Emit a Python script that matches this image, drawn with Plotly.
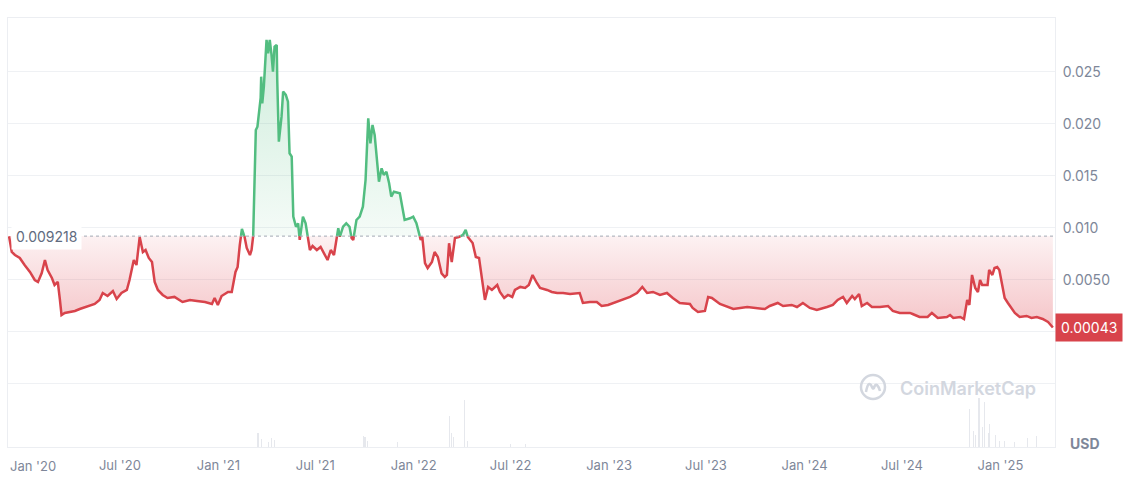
import plotly.graph_objects as go
import pandas as pd

BASE = 0.009218
LAST_LABEL = "0.00043"
BASE_LABEL = "0.009218"

dates = [
"2019-12-07","2019-12-12","2019-12-18","2019-12-27","2020-01-05","2020-01-15","2020-01-24","2020-01-30",
"2020-02-06","2020-02-12","2020-02-17","2020-02-25","2020-03-01","2020-03-07","2020-03-11","2020-03-14",
"2020-03-20","2020-04-08","2020-04-17","2020-05-02","2020-05-15","2020-05-24","2020-05-30","2020-06-08",
"2020-06-18","2020-06-25","2020-07-04","2020-07-14","2020-07-19","2020-07-27","2020-08-01","2020-08-07",
"2020-08-13","2020-08-18","2020-08-24","2020-08-30","2020-09-04","2020-09-10","2020-09-19","2020-09-28",
"2020-10-11","2020-10-26","2020-11-09","2020-11-22","2020-12-07","2020-12-20","2020-12-25","2020-12-31",
"2021-01-07","2021-01-19","2021-01-26","2021-02-02","2021-02-06","2021-02-10","2021-02-14","2021-02-19",
"2021-02-23","2021-03-01","2021-03-04","2021-03-07","2021-03-09","2021-03-12","2021-03-15","2021-03-18",
"2021-03-21","2021-03-22","2021-03-24","2021-03-27","2021-04-01","2021-04-04","2021-04-07","2021-04-10",
"2021-04-13","2021-04-16","2021-04-20","2021-04-21","2021-04-24","2021-04-29","2021-05-02","2021-05-07",
"2021-05-11","2021-05-14","2021-05-18","2021-05-21","2021-05-26","2021-05-30","2021-06-02","2021-06-08",
"2021-06-13","2021-06-18","2021-06-21","2021-06-26","2021-07-04","2021-07-11","2021-07-19","2021-07-24",
"2021-07-30","2021-08-05","2021-08-13","2021-08-16","2021-08-22","2021-08-28","2021-09-03","2021-09-07",
"2021-09-10","2021-09-16","2021-09-22","2021-09-28","2021-10-03","2021-10-08","2021-10-12","2021-10-16",
"2021-10-20","2021-10-23","2021-10-28","2021-11-02","2021-11-06","2021-11-11","2021-11-16","2021-11-20",
"2021-11-25","2021-12-06","2021-12-11","2021-12-15","2021-12-25","2021-12-31","2022-01-06","2022-01-11",
"2022-01-14","2022-01-17","2022-01-22","2022-01-27","2022-02-04","2022-02-09","2022-02-15","2022-02-22",
"2022-02-28","2022-03-04","2022-03-08","2022-03-13","2022-03-19","2022-03-26","2022-04-03","2022-04-08",
"2022-04-12","2022-04-21","2022-04-27","2022-05-03","2022-05-08","2022-05-14","2022-05-20","2022-05-27",
"2022-06-06","2022-06-11","2022-06-19","2022-06-26","2022-07-04","2022-07-09","2022-07-19","2022-07-28",
"2022-08-04","2022-08-11","2022-08-19","2022-08-25","2022-09-07","2022-09-16","2022-09-26","2022-10-07",
"2022-10-20","2022-11-02","2022-11-07","2022-11-13","2022-11-26","2022-12-09","2022-12-18","2022-12-30",
"2023-01-15","2023-01-27","2023-02-09","2023-02-22","2023-03-04","2023-03-13","2023-03-24","2023-04-06",
"2023-04-19","2023-04-30","2023-05-13","2023-06-01","2023-06-06","2023-06-16","2023-06-29","2023-07-05",
"2023-07-12","2023-07-27","2023-08-11","2023-08-21","2023-09-16","2023-10-10","2023-10-19","2023-10-28",
"2023-11-12","2023-11-22","2023-12-08","2023-12-18","2023-12-29","2024-01-11","2024-01-24","2024-02-12",
"2024-02-23","2024-03-03","2024-03-13","2024-03-20","2024-03-30","2024-04-04","2024-04-12","2024-04-17",
"2024-04-27","2024-05-06","2024-05-21","2024-06-05","2024-06-14","2024-06-27","2024-07-16","2024-07-21",
"2024-08-03","2024-08-18","2024-08-26","2024-09-06","2024-09-23","2024-09-29","2024-10-05","2024-10-18",
"2024-10-25","2024-10-31","2024-11-04","2024-11-09","2024-11-15","2024-11-20","2024-11-24","2024-11-28",
"2024-12-08","2024-12-11","2024-12-17","2024-12-21","2024-12-26","2024-12-30","2025-01-04","2025-01-09",
"2025-01-15","2025-01-22","2025-01-28","2025-02-06","2025-02-19","2025-02-28","2025-03-10","2025-03-21",
"2025-03-31","2025-04-09",
]

prices = [
0.00920,0.00769,0.00740,0.00712,0.00644,0.00577,0.00500,0.00481,
0.00567,0.00692,0.00596,0.00519,0.00452,0.00481,0.00308,0.00163,
0.00183,0.00202,0.00221,0.00250,0.00269,0.00308,0.00375,0.00346,
0.00394,0.00317,0.00375,0.00404,0.00500,0.00692,0.00644,0.00913,
0.00769,0.00788,0.00712,0.00673,0.00481,0.00404,0.00356,0.00327,
0.00337,0.00288,0.00308,0.00298,0.00288,0.00269,0.00327,0.00260,
0.00346,0.00385,0.00385,0.00577,0.00625,0.00836,0.00990,0.00913,
0.00808,0.00740,0.00788,0.00916,0.01269,0.01942,0.01974,0.02151,
0.02250,0.02455,0.02199,0.02359,0.02808,0.02680,0.02808,0.02680,
0.02503,0.02743,0.02760,0.02423,0.01830,0.02070,0.02311,0.02279,
0.02214,0.01718,0.01686,0.01109,0.01012,0.01045,0.00885,0.01109,
0.01045,0.00885,0.00788,0.00827,0.00788,0.00817,0.00740,0.00692,
0.00788,0.00740,0.00997,0.00916,0.01012,0.01045,0.01012,0.00901,
0.00885,0.01077,0.01109,0.01205,0.01461,0.02055,0.01814,0.01990,
0.01894,0.01718,0.01445,0.01574,0.01510,0.01541,0.01430,0.01301,
0.01349,0.01334,0.01189,0.01077,0.01093,0.01109,0.01045,0.00949,
0.00885,0.00915,0.00663,0.00615,0.00673,0.00769,0.00721,0.00564,
0.00529,0.00548,0.00853,0.00673,0.00904,0.00913,0.00933,0.00981,
0.00913,0.00856,0.00721,0.00712,0.00529,0.00308,0.00433,0.00404,
0.00452,0.00385,0.00327,0.00356,0.00337,0.00404,0.00433,0.00423,
0.00452,0.00548,0.00471,0.00423,0.00404,0.00385,0.00375,0.00375,
0.00365,0.00375,0.00375,0.00279,0.00288,0.00288,0.00250,0.00260,
0.00288,0.00308,0.00337,0.00375,0.00433,0.00375,0.00385,0.00356,
0.00375,0.00327,0.00279,0.00269,0.00231,0.00192,0.00202,0.00337,
0.00327,0.00269,0.00240,0.00221,0.00240,0.00231,0.00221,0.00250,
0.00279,0.00250,0.00260,0.00240,0.00279,0.00231,0.00212,0.00240,
0.00260,0.00308,0.00337,0.00279,0.00346,0.00317,0.00365,0.00250,
0.00279,0.00240,0.00240,0.00250,0.00202,0.00183,0.00183,0.00173,
0.00144,0.00144,0.00183,0.00135,0.00144,0.00163,0.00135,0.00144,
0.00125,0.00308,0.00260,0.00548,0.00423,0.00385,0.00500,0.00452,
0.00452,0.00596,0.00548,0.00615,0.00625,0.00596,0.00452,0.00327,
0.00279,0.00231,0.00183,0.00144,0.00154,0.00135,0.00144,0.00125,
0.00096,0.00043,
]

vol_dates = [
"2021-03-16","2021-03-23","2021-04-05","2021-04-11","2021-04-16",
"2021-09-30","2021-10-02","2021-10-06","2021-12-02",
"2022-03-08","2022-03-13","2022-03-17","2022-04-05","2022-04-12",
"2022-06-30","2022-07-28",
"2024-11-05","2024-11-11","2024-11-16","2024-11-22","2024-11-28","2024-12-03",
"2024-12-09","2024-12-12","2024-12-22","2024-12-30","2025-01-09","2025-01-28",
"2025-02-21","2025-03-10",
]
vol_values = [
700000,400000,250000,450000,350000,
550000,500000,300000,250000,
1550000,700000,500000,2350000,300000,
150000,150000,
1900000,800000,600000,2450000,1000000,2250000,
700000,1150000,600000,300000,300000,250000,
450000,550000,
]

tick_dates = ["2020-01-01","2020-07-01","2021-01-01","2021-07-01","2022-01-01","2022-07-01",
              "2023-01-01","2023-07-01","2024-01-01","2024-07-01","2025-01-01"]
tick_text = ["Jan '20","Jul '20","Jan '21","Jul '21","Jan '22","Jul '22",
             "Jan '23","Jul '23","Jan '24","Jul '24","Jan '25"]

y_tickvals = [-0.005, 0.0, 0.005, 0.010, 0.015, 0.020, 0.025]
y_ticktext = ["", "", "0.0050", "0.010", "0.015", "0.020", "0.025"]

RED = "#d8434b"
GREEN = "#52bd80"
TXT = "#7e8799"

# insert baseline crossing points so the two colours meet at the baseline
t = pd.to_datetime(dates)
xs, ys = [], []
for i in range(len(t)):
    if i > 0:
        v0, v1 = prices[i - 1], prices[i]
        if (v0 - BASE) * (v1 - BASE) < 0:
            f = (BASE - v0) / (v1 - v0)
            xs.append(t[i - 1] + (t[i] - t[i - 1]) * f)
            ys.append(BASE)
    xs.append(t[i])
    ys.append(prices[i])

low = [min(v, BASE) for v in ys]
high = [max(v, BASE) for v in ys]
red_line = [v if v <= BASE else None for v in ys]
green_line = [v if v >= BASE else None for v in ys]

fig = go.Figure()

# volume bars
fig.add_trace(go.Bar(x=pd.to_datetime(vol_dates), y=vol_values, yaxis="y2",
                     marker=dict(color="rgba(200,205,215,0.45)", line=dict(width=0)),
                     width=2 * 86400000, hoverinfo="skip"))

base_x = [xs[0], xs[-1]]
fig.add_trace(go.Scatter(x=base_x, y=[BASE, BASE], mode="lines", line=dict(width=0),
                         hoverinfo="skip"))
fig.add_trace(go.Scatter(x=xs, y=low, mode="lines", line=dict(width=0), fill="tonexty",
                         fillgradient=dict(type="vertical",
                                           colorscale=[[0, "rgba(222,66,76,0.30)"], [1, "rgba(222,66,76,0.07)"]],
                                           start=0.0008, stop=BASE),
                         hoverinfo="skip"))
fig.add_trace(go.Scatter(x=base_x, y=[BASE, BASE], mode="lines", line=dict(width=0),
                         hoverinfo="skip"))
fig.add_trace(go.Scatter(x=xs, y=high, mode="lines", line=dict(width=0), fill="tonexty",
                         fillgradient=dict(type="vertical",
                                           colorscale=[[0, "rgba(82,189,128,0.06)"], [1, "rgba(82,189,128,0.28)"]],
                                           start=BASE, stop=0.028),
                         hoverinfo="skip"))
fig.add_trace(go.Scatter(x=xs, y=red_line, mode="lines", line=dict(color=RED, width=2.5),
                         connectgaps=False, hoverinfo="skip"))
fig.add_trace(go.Scatter(x=xs, y=green_line, mode="lines", line=dict(color=GREEN, width=2.5),
                         connectgaps=False, hoverinfo="skip"))

# paper helpers (plot area: x 8..1055, y 18..447)
def px_x(p):
    return (p - 8) / 1047.0

def px_y(p):
    return (447 - p) / 429.0

shapes = [
    dict(type="line", xref="paper", yref="y", x0=px_x(84), x1=1, y0=BASE, y1=BASE,
         line=dict(color="#a3a9b4", width=1, dash="dot")),
    dict(type="circle", xref="paper", yref="paper", xsizemode="pixel", ysizemode="pixel",
         xanchor=px_x(873), yanchor=px_y(387), x0=-12, x1=12, y0=-12, y1=12,
         line=dict(color="#d3d7df", width=2.5)),
    dict(type="path", xref="paper", yref="paper", xsizemode="pixel", ysizemode="pixel",
         xanchor=px_x(873), yanchor=px_y(387),
         path="M -7,-5 Q -5,6 -2,2 Q 0,-3 1,-1 Q 2,3 4,2 Q 6,0 7,-4",
         line=dict(color="#d3d7df", width=2.5)),
]

annotations = [
    dict(xref="paper", yref="y", x=px_x(11), y=BASE, xanchor="left", yanchor="middle",
         text=BASE_LABEL, showarrow=False, bgcolor="white", borderpad=4,
         font=dict(size=14, color="#616b7e")),
    dict(xref="paper", yref="y", x=1.0, y=0.00043, xanchor="left", yanchor="middle",
         text=LAST_LABEL, showarrow=False, bgcolor=RED, borderpad=5,
         font=dict(size=14, color="white")),
    dict(xref="paper", yref="paper", x=px_x(1085), y=px_y(443), xanchor="center", yanchor="middle",
         text="<b>USD</b>", showarrow=False, font=dict(size=14, color=TXT)),
    dict(xref="paper", yref="paper", x=px_x(898), y=px_y(388), xanchor="left", yanchor="middle",
         text="CoinMarketCap", showarrow=False,
         font=dict(size=18, color="#d3d7df", weight=600)),
    # first x label, shifted right so it stays inside the page (as in the reference)
    dict(xref="paper", yref="paper", x=px_x(8), y=px_y(466), xanchor="left", yanchor="middle",
         text=tick_text[0], showarrow=False, font=dict(size=13, color=TXT)),
]

axis_ticktext = [""] + tick_text[1:]

fig.update_layout(
    width=1140, height=477,
    margin=dict(l=8, r=85, t=18, b=30, autoexpand=False),
    paper_bgcolor="white", plot_bgcolor="white",
    showlegend=False,
    font=dict(family="Inter, Roboto, sans-serif", color=TXT),
    xaxis=dict(type="date", range=["2019-12-05", "2025-04-13"],
               tickvals=tick_dates, ticktext=axis_ticktext, ticks="",
               showgrid=False, zeroline=False, showline=True, mirror=True, automargin=False,
               linecolor="#eceef2", linewidth=1, tickfont=dict(size=13, color=TXT),
               ticklabelstandoff=6),
    yaxis=dict(side="right", range=[-0.01106, 0.03019], tickvals=y_tickvals, ticktext=y_ticktext,
               ticks="", showgrid=True, gridcolor="#eff1f4", gridwidth=1, zeroline=False,
               showline=True, mirror=True, linecolor="#eceef2", linewidth=1, automargin=False,
               tickfont=dict(size=14, color=TXT), ticklabelstandoff=4),
    yaxis2=dict(overlaying="y", range=[0, 429 * 50000], visible=False),
    shapes=shapes,
    annotations=annotations,
    bargap=0,
)

fig.write_html("out.html",
               config={"displayModeBar": False},
               post_script="document.body.style.margin='0';document.body.style.padding='0';")
